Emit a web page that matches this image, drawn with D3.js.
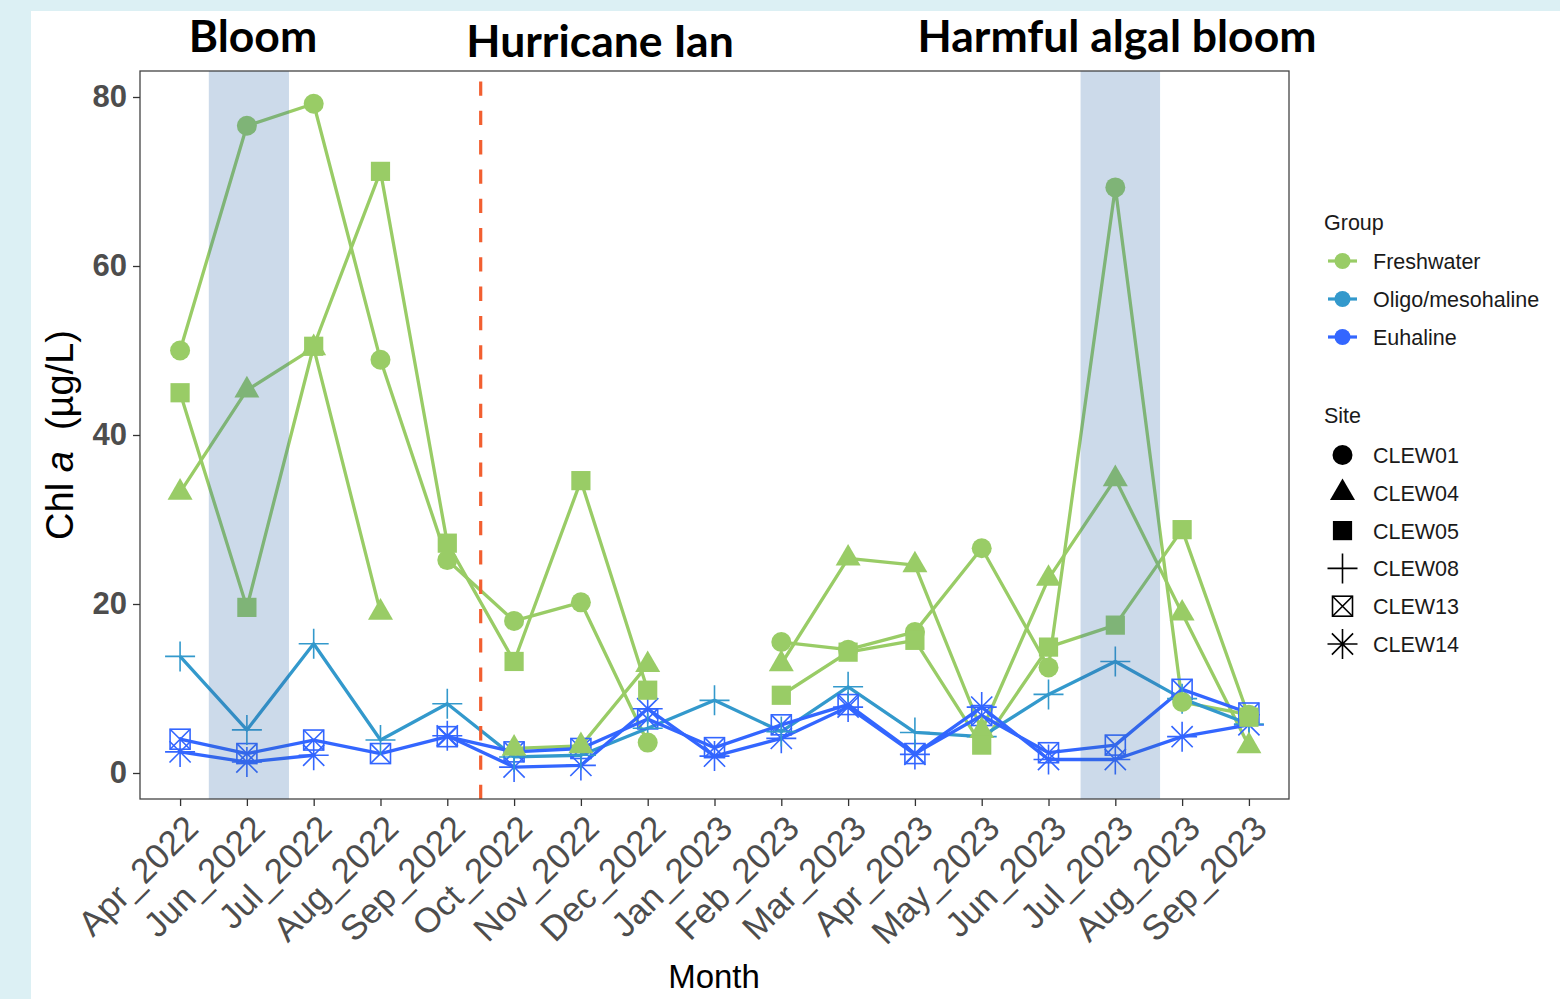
<!DOCTYPE html>
<html>
<head>
<meta charset="utf-8">
<script src="https://cdn.jsdelivr.net/npm/d3@7"></script>
<style>
  html, body { margin: 0; padding: 0; background: #ffffff; }
  svg { display: block; }
</style>
</head>
<body>
<svg id="chart" width="1560" height="999"></svg>
<script>
// ---- data ----
const months = ["Apr_2022","Jun_2022","Jul_2022","Aug_2022","Sep_2022","Oct_2022","Nov_2022","Dec_2022",
  "Jan_2023","Feb_2023","Mar_2023","Apr_2023","May_2023","Jun_2023","Jul_2023","Aug_2023","Sep_2023"];

const groups = ["Freshwater", "Oligo/mesohaline", "Euhaline"];
const groupColors = ["#99cc66", "#3399cc", "#3366ff"];

const sites = ["CLEW01", "CLEW04", "CLEW05", "CLEW08", "CLEW13", "CLEW14"];
const siteGroup = ["Freshwater", "Freshwater", "Freshwater", "Oligo/mesohaline", "Euhaline", "Euhaline"];
const siteShape = ["circle", "triangle", "square", "plus", "boxcross", "asterisk"];

// Chl a (µg/L) per site, one value per month (null = no sample)
const clew01 = [50.0, 76.6, 79.2, 48.9, 25.2, 18.0, 20.2, 3.6, null, 15.5, 14.6, 16.7, 26.6, 12.5, 69.3, 8.4, 6.9];
const clew04 = [33.2, 45.3, 50.3, 19.0, null, 2.9, 3.2, 12.8, null, 12.9, 25.4, 24.6, 5.0, 23.0, 34.8, 18.9, 3.2];
const clew05 = [45.0, 19.6, 50.5, 71.2, 27.2, 13.2, 34.6, 9.8, null, 9.2, 14.3, 15.7, 3.3, 14.9, 17.5, 28.8, 6.6];
const clew08 = [13.8, 5.1, 15.3, 3.9, 8.2, 1.9, 2.1, 5.3, 8.6, 4.9, 10.2, 4.8, 4.3, 9.3, 13.2, 8.8, 5.8];
const clew13 = [4.0, 2.3, 3.9, 2.3, 4.3, 2.5, 2.9, 6.4, 3.0, 5.7, 8.1, 2.3, 6.8, 2.4, 3.3, 9.9, 7.1];
const clew14 = [2.5, 1.3, 2.1, null, 4.4, 0.7, 0.9, 7.6, 2.0, 4.1, 7.8, 2.2, 7.8, 1.6, 1.6, 4.3, 5.7];
const siteValues = [clew01, clew04, clew05, clew08, clew13, clew14];

const yTicks = [0, 20, 40, 60, 80];

// event annotations (positions in month-index units)
const bloomSpans = [[0.43, 1.63], [13.48, 14.67]];
const hurricaneAt = 4.5;
const eventTitles = ["Bloom", "Hurricane Ian", "Harmful algal bloom"];
const eventTitleX = [253, 600, 1117];

// ---- layout ----
const svg = d3.select("#chart");
const W = 1560, H = 999;
const panel = { left: 140, right: 1289, top: 71, bottom: 799 };

svg.append("rect").attr("width", W).attr("height", H).attr("fill", "#dcf0f4");
svg.append("rect").attr("x", 31).attr("y", 11).attr("width", W - 31).attr("height", H - 11).attr("fill", "#ffffff");

const x = d3.scalePoint().domain(months).range([panel.left, panel.right]).padding(0.6);
const xIdx = v => x(months[0]) + v * x.step();
const y = d3.scaleLinear().domain([0, 80]).range([773, 97]);

const colorOf = g => groupColors[groups.indexOf(g)];

// ---- panel ----
svg.append("rect")
  .attr("x", panel.left).attr("y", panel.top)
  .attr("width", panel.right - panel.left).attr("height", panel.bottom - panel.top)
  .attr("fill", "#ffffff");

// ---- lines ----
const line = d3.line()
  .defined(d => d.v != null)
  .x(d => x(d.m))
  .y(d => y(d.v));

const lineLayer = svg.append("g");
sites.forEach((s, i) => {
  const pts = months.map((m, j) => ({ m, v: siteValues[i][j] }));
  lineLayer.append("path")
    .datum(pts)
    .attr("d", line)
    .attr("fill", "none")
    .attr("stroke", colorOf(siteGroup[i]))
    .attr("stroke-width", 3.3)
    .attr("stroke-linejoin", "round");
});

// hurricane marker
svg.append("line")
  .attr("x1", xIdx(hurricaneAt)).attr("x2", xIdx(hurricaneAt))
  .attr("y1", panel.bottom).attr("y2", panel.top)
  .attr("stroke", "#f25f30").attr("stroke-width", 3.2)
  .attr("stroke-dasharray", "14.3,15");

// ---- point shapes ----
function drawShape(g, shape, cx, cy, color, k = 1) {
  const sw = 1.6;
  if (shape === "circle") {
    g.append("circle").attr("cx", cx).attr("cy", cy).attr("r", 10 * k).attr("fill", color);
  } else if (shape === "triangle") {
    const r = 14.4 * k, xc = 12.5 * k, yc = 7.2 * k;
    g.append("path")
      .attr("d", `M${cx},${cy - r}L${cx + xc},${cy + yc}L${cx - xc},${cy + yc}Z`)
      .attr("fill", color);
  } else if (shape === "square") {
    const h = 9.6 * k;
    g.append("rect").attr("x", cx - h).attr("y", cy - h).attr("width", 2 * h).attr("height", 2 * h).attr("fill", color);
  } else if (shape === "plus") {
    const a = 15 * k;
    g.append("path").attr("d", `M${cx - a},${cy}H${cx + a}M${cx},${cy - a}V${cy + a}`)
      .attr("stroke", color).attr("stroke-width", sw).attr("fill", "none");
  } else if (shape === "boxcross") {
    const h = 10 * k;
    g.append("rect").attr("x", cx - h).attr("y", cy - h).attr("width", 2 * h).attr("height", 2 * h)
      .attr("fill", "none").attr("stroke", color).attr("stroke-width", sw);
    g.append("path").attr("d", `M${cx - h},${cy - h}L${cx + h},${cy + h}M${cx - h},${cy + h}L${cx + h},${cy - h}`)
      .attr("stroke", color).attr("stroke-width", sw).attr("fill", "none");
  } else if (shape === "asterisk") {
    const a = 15 * k, b = 10.6 * k;
    g.append("path")
      .attr("d", `M${cx - a},${cy}H${cx + a}M${cx},${cy - a}V${cy + a}` +
                 `M${cx - b},${cy - b}L${cx + b},${cy + b}M${cx - b},${cy + b}L${cx + b},${cy - b}`)
      .attr("stroke", color).attr("stroke-width", sw).attr("fill", "none");
  }
}

// points: saline sites first so freshwater markers sit on top
const pointLayer = svg.append("g");
[5, 4, 3, 0, 1, 2].forEach(i => {
  months.forEach((m, j) => {
    const v = siteValues[i][j];
    if (v == null) return;
    drawShape(pointLayer, siteShape[i], x(m), y(v), colorOf(siteGroup[i]));
  });
});

// bloom shading over the data
bloomSpans.forEach(([a, b]) => {
  svg.append("rect")
    .attr("x", xIdx(a)).attr("y", panel.top)
    .attr("width", xIdx(b) - xIdx(a)).attr("height", panel.bottom - panel.top)
    .attr("fill", "#336bab").attr("fill-opacity", 0.25);
});

// panel border
svg.append("rect")
  .attr("x", panel.left).attr("y", panel.top)
  .attr("width", panel.right - panel.left).attr("height", panel.bottom - panel.top)
  .attr("fill", "none").attr("stroke", "#444444").attr("stroke-width", 1.3);

// ---- axes ----
const axisFont = "'Liberation Sans', Arial, sans-serif";

const yAxis = svg.append("g")
  .attr("transform", `translate(${panel.left},0)`)
  .call(d3.axisLeft(y).tickValues(yTicks).tickSize(7).tickPadding(6));
yAxis.select(".domain").remove();
yAxis.selectAll(".tick line").attr("stroke", "#333333").attr("stroke-width", 1.3);
yAxis.selectAll(".tick text")
  .attr("fill", "#4d4d4d").style("font-family", axisFont)
  .style("font-size", "31px").style("font-weight", "bold");

const xAxis = svg.append("g")
  .attr("transform", `translate(0,${panel.bottom})`)
  .call(d3.axisBottom(x).tickSize(7).tickPadding(6));
xAxis.select(".domain").remove();
xAxis.selectAll(".tick line").attr("stroke", "#333333").attr("stroke-width", 1.3);
xAxis.selectAll(".tick text")
  .attr("fill", "#4d4d4d").style("font-family", axisFont).style("font-size", "35px")
  .attr("text-anchor", "end")
  .attr("y", 0).attr("dy", "0.75em")
  .attr("transform", "translate(1,13) rotate(-45)");

// axis titles
svg.append("text")
  .attr("x", 714).attr("y", 988)
  .attr("text-anchor", "middle")
  .style("font-family", axisFont).style("font-size", "33px").attr("fill", "#000")
  .text("Month");

const yTitle = svg.append("text")
  .attr("transform", "translate(73,435) rotate(-90)")
  .attr("text-anchor", "middle")
  .style("font-family", axisFont).style("font-size", "38px").attr("fill", "#000");
yTitle.append("tspan").text("Chl ");
yTitle.append("tspan").style("font-style", "italic").text("a");
yTitle.append("tspan").text("  (µg/L)").attr("xml:space", "preserve");

// event titles
eventTitles.forEach((t, i) => {
  svg.append("text")
    .attr("x", eventTitleX[i]).attr("y", i === 1 ? 57 : 52)
    .attr("text-anchor", "middle")
    .style("font-family", "Lato, 'Open Sans', sans-serif")
    .style("font-size", "44.5px").style("font-weight", "bold").attr("fill", "#000")
    .text(t);
});

// ---- legends ----
const legFont = "'Liberation Sans', Arial, sans-serif";
const leg = svg.append("g");
leg.append("text").attr("x", 1324).attr("y", 230)
  .style("font-family", legFont).style("font-size", "21.5px").attr("fill", "#1a1a1a").text("Group");
groups.forEach((g, i) => {
  const cy = 261 + i * 38;
  leg.append("line").attr("x1", 1328).attr("x2", 1357).attr("y1", cy).attr("y2", cy)
    .attr("stroke", groupColors[i]).attr("stroke-width", 3.2);
  leg.append("circle").attr("cx", 1342.5).attr("cy", cy).attr("r", 8).attr("fill", groupColors[i]);
  leg.append("text").attr("x", 1373).attr("y", cy + 8)
    .style("font-family", legFont).style("font-size", "21.5px").attr("fill", "#1a1a1a").text(g);
});

leg.append("text").attr("x", 1324).attr("y", 423)
  .style("font-family", legFont).style("font-size", "21.5px").attr("fill", "#1a1a1a").text("Site");
sites.forEach((s, i) => {
  const cy = 455 + i * 37.8;
  drawShape(leg, siteShape[i], 1342.5, cy, "#000000");
  leg.append("text").attr("x", 1373).attr("y", cy + 8)
    .style("font-family", legFont).style("font-size", "21.5px").attr("fill", "#1a1a1a").text(s);
});
</script>
</body>
</html>
